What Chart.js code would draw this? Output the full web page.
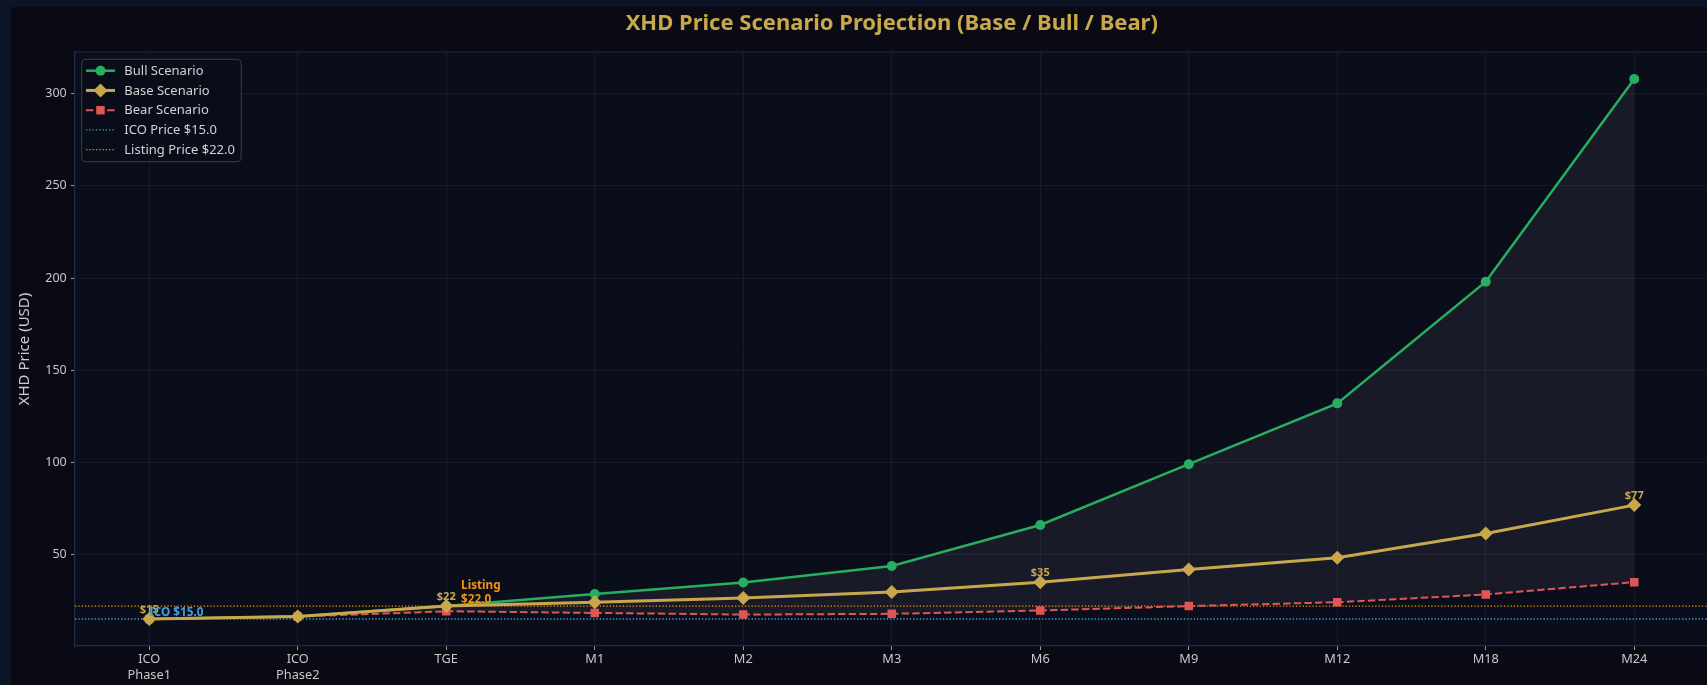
<!DOCTYPE html>
<html><head><meta charset="utf-8">
<script src="https://cdn.jsdelivr.net/npm/chart.js@4.4.1/dist/chart.umd.min.js"></script>
<style>
html,body{margin:0;padding:0;width:1707px;height:685px;overflow:hidden;background:#0b1526;}
#wrap{position:absolute;left:11px;top:7px;width:1760px;height:678px;background:#0a0a15;}
canvas{display:block;}
</style></head><body>
<div id="wrap"><canvas id="c" width="1760" height="678" style="width:1760px;height:678px"></canvas></div>
<script>
// ---- data ----
const CATEGORIES = [['ICO','Phase1'],['ICO','Phase2'],'TGE','M1','M2','M3','M6','M9','M12','M18','M24'];
const BULL = [15, 16.3, 22, 28.6, 34.8, 43.8, 66, 99, 132, 198, 308];
const BASE = [15, 16.3, 22, 24.1, 26.4, 29.6, 35, 41.8, 48.2, 61.4, 76.8];
const BEAR = [15, 16.3, 19.2, 18.3, 17.4, 17.8, 19.6, 22, 24.1, 28.3, 35];
const ICO_PRICE = 15.0;
const LISTING_PRICE = 22.0;
const Y_TICKS = [50, 100, 150, 200, 250, 300];
const LABELED_POINTS = [0, 2, 6, 10];
const SERIES_NAMES = ['Bull Scenario', 'Base Scenario', 'Bear Scenario', 'ICO Price $15.0', 'Listing Price $22.0'];
const TITLE = 'XHD Price Scenario Projection (Base / Bull / Bear)';
const Y_LABEL = 'XHD Price (USD)';

// ---- style ----
const FONT = '"Noto Sans", "Open Sans", sans-serif';
const FIG_BG = '#0a0a15', AX_BG = '#0a0e1b', SPINE = '#1f2a4d';
const GRID = 'rgba(255,255,255,0.055)', TICK = '#c8c8c8', TICKMARK = '#9a9a9a';
const GREEN = '#27ae60', GOLD = '#c9a84c', RED = '#e05555', BLUE = '#3fa3dc', ORANGE = '#f0950f';
const FILL = 'rgba(205,185,215,0.075)';

Chart.defaults.font.family = FONT;

const yMin = 0.35, yMax = 322.65;

function drawMarker(ctx, style, x, y, r) {
  ctx.beginPath();
  if (style === 'circle') ctx.arc(x, y, r, 0, Math.PI * 2);
  else if (style === 'rectRot') { ctx.moveTo(x - r, y); ctx.lineTo(x, y - r); ctx.lineTo(x + r, y); ctx.lineTo(x, y + r); ctx.closePath(); }
  else if (style === 'rect') { const s = Math.SQRT1_2 * r; ctx.rect(x - s, y - s, 2 * s, 2 * s); }
  ctx.fill();
}

const bgPlugin = {
  id: 'bgPlugin',
  beforeDraw(chart) {
    const {ctx, chartArea: a} = chart;
    ctx.save();
    ctx.fillStyle = FIG_BG; ctx.fillRect(0, 0, chart.width, chart.height);
    ctx.fillStyle = AX_BG; ctx.fillRect(a.left, a.top, a.right - a.left, a.bottom - a.top);
    ctx.restore();
  },
  beforeDatasetsDraw(chart) {
    const {ctx, chartArea: a} = chart;
    ctx.save();
    ctx.strokeStyle = SPINE; ctx.lineWidth = 1.2;
    ctx.beginPath();
    ctx.moveTo(a.left, a.top); ctx.lineTo(a.right, a.top); ctx.lineTo(a.right, a.bottom);
    ctx.stroke();
    ctx.restore();
  }
};

const annotPlugin = {
  id: 'annotPlugin',
  afterDatasetsDraw(chart) {
    const {ctx, scales} = chart;
    const meta = chart.getDatasetMeta(1);
    ctx.save();
    ctx.font = 'bold 11px ' + FONT;
    ctx.fillStyle = GOLD; ctx.textAlign = 'center'; ctx.textBaseline = 'alphabetic';
    for (const i of LABELED_POINTS) {
      const p = meta.data[i];
      ctx.fillText('$' + Math.round(BASE[i]), p.x, p.y - 6);
    }
    ctx.font = 'bold 11.7px ' + FONT;
    ctx.textAlign = 'left';
    ctx.fillStyle = BLUE;
    ctx.fillText('ICO $' + ICO_PRICE.toFixed(1), scales.x2.getPixelForValue(0), scales.y.getPixelForValue(ICO_PRICE) - 3);
    ctx.fillStyle = ORANGE;
    const lx = scales.x2.getPixelForValue(2.1), ly = scales.y.getPixelForValue(LISTING_PRICE) - 3;
    ctx.fillText('$' + LISTING_PRICE.toFixed(1), lx, ly);
    ctx.fillText('Listing', lx, ly - 14);
    ctx.restore();
  }
};

const legendPlugin = {
  id: 'legendPlugin',
  afterDraw(chart) {
    const {ctx, chartArea: a} = chart;
    const x0 = a.left + 6.7, y0 = a.top + 7.3, w = 159.5, h = 102.4;
    ctx.save();
    ctx.beginPath();
    ctx.roundRect(x0, y0, w, h, 4);
    ctx.fillStyle = 'rgba(10,13,25,0.92)'; ctx.fill();
    ctx.strokeStyle = 'rgba(85,78,62,0.75)'; ctx.lineWidth = 1; ctx.stroke();
    chart.data.datasets.forEach((ds, i) => {
      const y = y0 + 11.4 + i * 19.75;
      const hx0 = x0 + 4.3, hx1 = x0 + 33.3, hm = (hx0 + hx1) / 2;
      ctx.setLineDash(ds.borderDash || []);
      ctx.strokeStyle = ds.borderColor; ctx.lineWidth = ds.borderWidth;
      ctx.beginPath(); ctx.moveTo(hx0, y); ctx.lineTo(hx1, y); ctx.stroke();
      ctx.setLineDash([]);
      if (ds.pointRadius > 0) { ctx.fillStyle = ds.pointBackgroundColor; drawMarker(ctx, ds.pointStyle, hm, y, ds.pointRadius); }
      ctx.fillStyle = '#d2d2d2'; ctx.font = '13px ' + FONT; ctx.textAlign = 'left'; ctx.textBaseline = 'middle';
      ctx.fillText(ds.label, x0 + 42.6, y + 0.5);
    });
    ctx.restore();
  }
};

const hLine = v => [{x: -0.5, y: v}, {x: 10.5, y: v}];

new Chart(document.getElementById('c'), {
  type: 'line',
  data: {
    labels: CATEGORIES,
    datasets: [
      {label: SERIES_NAMES[0], data: BULL, borderColor: GREEN, backgroundColor: FILL, borderWidth: 2.5,
       pointStyle: 'circle', pointRadius: 5, pointBackgroundColor: GREEN, pointBorderColor: GREEN, pointBorderWidth: 0,
       fill: {target: 2}, order: 2, tension: 0},
      {label: SERIES_NAMES[1], data: BASE, borderColor: GOLD, borderWidth: 3,
       pointStyle: 'rectRot', pointRadius: 7, pointBackgroundColor: GOLD, pointBorderColor: GOLD, pointBorderWidth: 0,
       fill: false, order: 0, tension: 0},
      {label: SERIES_NAMES[2], data: BEAR, borderColor: RED, borderWidth: 2, borderDash: [7.4, 3.2],
       pointStyle: 'rect', pointRadius: 6, pointBackgroundColor: RED, pointBorderColor: RED, pointBorderWidth: 0,
       fill: false, order: 1, tension: 0},
      {label: SERIES_NAMES[3], data: hLine(ICO_PRICE), xAxisID: 'x2', borderColor: BLUE, borderWidth: 1.3,
       borderDash: [1.3, 2.0], pointRadius: 0, fill: false, order: 3},
      {label: SERIES_NAMES[4], data: hLine(LISTING_PRICE), xAxisID: 'x2', borderColor: ORANGE, borderWidth: 1.3,
       borderDash: [1.3, 2.0], pointRadius: 0, fill: false, order: 3}
    ]
  },
  options: {
    responsive: false, animation: false, devicePixelRatio: 1, events: [],
    layout: {padding: {left: 0, right: 62.5, top: 0, bottom: 0}},
    plugins: {
      legend: {display: false}, tooltip: {enabled: false},
      title: {display: true, text: TITLE, color: GOLD, fullSize: false,
        font: {family: FONT, size: 22, weight: 'bold', lineHeight: 1.2},
        padding: {top: 3.8, bottom: 14.8}}
    },
    scales: {
      x: {type: 'category', offset: true, position: 'bottom',
        afterFit: s => { s.height = 39; },
        ticks: {color: TICK, font: {size: 12.8, lineHeight: 1.22}, padding: 2, maxRotation: 0, autoSkip: false},
        grid: {color: GRID, tickColor: TICKMARK, tickLength: 4, lineWidth: 1},
        border: {color: SPINE, width: 1.2}},
      x2: {type: 'linear', min: -0.5, max: 10.5, display: false},
      y: {type: 'linear', min: yMin, max: yMax,
        afterBuildTicks: s => { s.ticks = Y_TICKS.map(v => ({value: v})); },
        afterFit: s => { s.width = 64; },
        ticks: {color: TICK, font: {size: 12.5}, padding: 4.3},
        grid: {color: GRID, tickColor: TICKMARK, tickLength: 4, lineWidth: 1},
        border: {color: SPINE, width: 1.2},
        title: {display: true, text: Y_LABEL, color: '#cccccc', font: {size: 15}, padding: {top: 5, bottom: 0}}}
    }
  },
  plugins: [bgPlugin, annotPlugin, legendPlugin]
});
</script>
</body></html>
